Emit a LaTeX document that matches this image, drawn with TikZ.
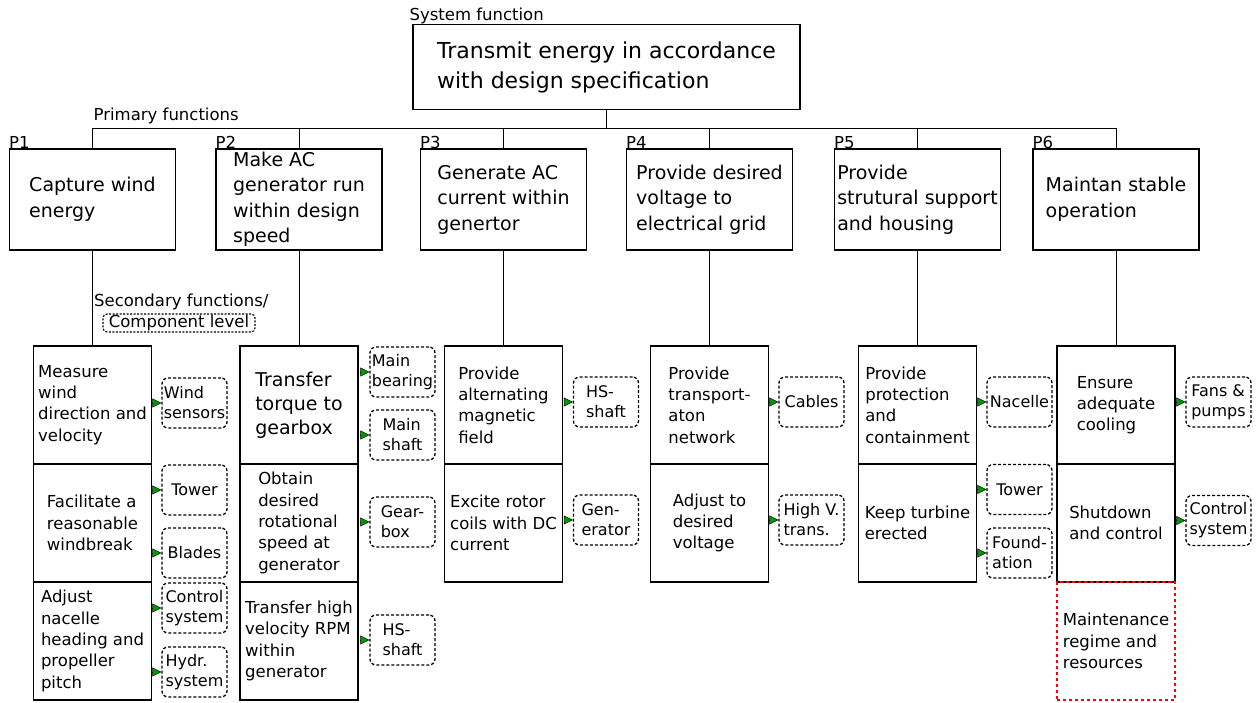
\documentclass[tikz,border=0pt]{standalone}
\usepackage{fontspec}
\setmainfont{DejaVu Sans}
\usetikzlibrary{arrows.meta,positioning}

\begin{document}
\begin{tikzpicture}[x=1pt,y=-1pt,
  sys node/.style={rectangle,draw,line width=1.2pt,minimum width=387pt,minimum height=85pt,
    align=left,inner sep=2pt,font=\fontsize{22}{30}\selectfont},
  prim node/.style={rectangle,draw,line width=1.2pt,minimum width=166pt,minimum height=101pt,
    align=left,inner sep=1pt,font=\fontsize{19}{25.5}\selectfont},
  sec node/.style={rectangle,draw,line width=1.2pt,minimum width=118pt,minimum height=118pt,
    outer sep=0pt,align=left,inner sep=1pt,font=\fontsize{16.5}{21.3}\selectfont},
  open node/.style={sec node,draw=red,dashed},
  comp node/.style={rectangle,rounded corners=6pt,draw,line width=1.3pt,dash pattern=on 3pt off 2pt,
    minimum width=65pt,minimum height=50pt,align=left,inner sep=1pt,font=\fontsize{16}{20}\selectfont},
  label node/.style={inner sep=0pt,font=\fontsize{16.5}{20}\selectfont},
  comp arrow/.style={-{Triangle[length=9pt,width=9pt,fill=green!60!black]},line width=0.5pt,shorten <=2pt},
  link/.style={draw,line width=1pt}]

  \useasboundingbox (0,0) rectangle (1256,702);

  % system and primary functions
  \node[sys node] (sys) at (606.5,67) {Transmit energy in accordance\\with design specification};
  \node[label node,anchor=south west,xshift=-3pt] (syslbl) at (sys.north west) {System function};

  \node[prim node] (p1) at (92.5,199.5) {Capture wind\\energy};
  \node[prim node] (p2) at (299,199.5) {Make AC\\generator run\\within design\\speed};
  \node[prim node] (p3) at (503.5,199.5) {Generate AC\\current within\\genertor};
  \node[prim node] (p4) at (709.5,199.5) {Provide desired\\voltage to\\electrical grid};
  \node[prim node] (p5) at (917.5,199.5) {Provide\\strutural support\\and housing};
  \node[prim node] (p6) at (1116,199.5) {Maintan stable\\operation};

  \node[label node,anchor=base west] (pl1) at (p1.north west) {P1};
  \node[label node,anchor=base west] (pl2) at (p2.north west) {P2};
  \node[label node,anchor=base west] (pl3) at (p3.north west) {P3};
  \node[label node,anchor=base west] (pl4) at (p4.north west) {P4};
  \node[label node,anchor=base west] (pl5) at (p5.north west) {P5};
  \node[label node,anchor=base west] (pl6) at (p6.north west) {P6};

  \coordinate (bus) at (0,128);
  \node[label node,anchor=south west,xshift=1pt,yshift=4pt] (primlbl) at (p1.north |- bus) {Primary functions};

  \path[link] (sys.south) edge (sys.south |- bus);
  \draw[link] (p1.north) -- (p1.north |- bus) -- (p6.north |- bus) -- (p6.north);
  \path[link] (p2.north) edge (p2.north |- bus)
              (p3.north) edge (p3.north |- bus)
              (p4.north) edge (p4.north |- bus)
              (p5.north) edge (p5.north |- bus);

  % secondary functions
  \node[label node,anchor=base west] (seclbl) at (94,306) {Secondary functions/};
  \node[label node,draw,rounded corners=4pt,line width=1.1pt,dash pattern=on 2pt off 1.5pt,
    minimum width=152pt,minimum height=18pt] (complbl) at (179,323) {Component level};

  \node[sec node] (s1a) at (92.5,405) {Measure\\wind\\direction and\\velocity};
  \node[sec node,below=0pt of s1a] (s1b) {Facilitate a\\reasonable\\windbreak};
  \node[sec node,below=0pt of s1b] (s1c) {Adjust\\nacelle\\heading and\\propeller\\pitch};

  \node[sec node,font=\fontsize{19}{24}\selectfont] (s2a) at (299,405) {Transfer\\torque to\\gearbox};
  \node[sec node,below=0pt of s2a] (s2b) {Obtain\\desired\\rotational\\speed at\\generator};
  \node[sec node,below=0pt of s2b] (s2c) {Transfer high\\velocity RPM\\within\\generator};

  \node[sec node] (s3a) at (503.5,405) {Provide\\alternating\\magnetic\\field};
  \node[sec node,below=0pt of s3a] (s3b) {Excite rotor\\coils with DC\\current};

  \node[sec node] (s4a) at (709.5,405) {Provide\\transport-\\aton\\network};
  \node[sec node,below=0pt of s4a] (s4b) {Adjust to\\desired\\voltage};

  \node[sec node] (s5a) at (917.5,405) {Provide\\protection\\and\\containment};
  \node[sec node,below=0pt of s5a] (s5b) {Keep turbine\\erected};

  \node[sec node] (s6a) at (1116,405) {Ensure\\adequate\\cooling};
  \node[sec node,below=0pt of s6a] (s6b) {Shutdown\\and control};
  \node[open node,below=0pt of s6b] (s6c) {Maintenance\\regime and\\resources};

  \path[link] (p1.south) edge (s1a.north)
              (p2.south) edge (s2a.north)
              (p3.south) edge (s3a.north)
              (p4.south) edge (s4a.north)
              (p5.south) edge (s5a.north)
              (p6.south) edge (s6a.north);

  % components
  \node[comp node] (c1a) at (194.5,403) {Wind\\sensors};
  \node[comp node] (c1b) at (194.5,490) {Tower};
  \node[comp node] (c1c) at (194.5,553) {Blades};
  \node[comp node] (c1d) at (194.5,608) {Control\\system};
  \node[comp node] (c1e) at (194.5,672) {Hydr.\\system};

  \node[comp node] (c2a) at (402.5,372) {Main\\bearing};
  \node[comp node] (c2b) at (402.5,435) {Main\\shaft};
  \node[comp node] (c2c) at (402.5,522) {Gear-\\box};
  \node[comp node] (c2d) at (402.5,640) {HS-\\shaft};

  \node[comp node] (c3a) at (606,402) {HS-\\shaft};
  \node[comp node] (c3b) at (606,520) {Gen-\\erator};

  \node[comp node] (c4a) at (811.5,402) {Cables};
  \node[comp node] (c4b) at (811.5,520) {High V.\\trans.};

  \node[comp node] (c5a) at (1019.5,402) {Nacelle};
  \node[comp node] (c5b) at (1019.5,489.5) {Tower};
  \node[comp node] (c5c) at (1019.5,553) {Found-\\ation};

  \node[comp node] (c6a) at (1218.5,402) {Fans \&\\pumps};
  \node[comp node] (c6b) at (1218.5,520.5) {Control\\system};

  \path[comp arrow] (s1a.east |- c1a.west) edge (c1a.west)
                    (s1b.east |- c1b.west) edge (c1b.west)
                    (s1b.east |- c1c.west) edge (c1c.west)
                    (s1c.east |- c1d.west) edge (c1d.west)
                    (s1c.east |- c1e.west) edge (c1e.west)
                    (s2a.east |- c2a.west) edge (c2a.west)
                    (s2a.east |- c2b.west) edge (c2b.west)
                    (s2b.east |- c2c.west) edge (c2c.west)
                    (s2c.east |- c2d.west) edge (c2d.west)
                    (s3a.east |- c3a.west) edge (c3a.west)
                    (s3b.east |- c3b.west) edge (c3b.west)
                    (s4a.east |- c4a.west) edge (c4a.west)
                    (s4b.east |- c4b.west) edge (c4b.west)
                    (s5a.east |- c5a.west) edge (c5a.west)
                    (s5b.east |- c5b.west) edge (c5b.west)
                    (s5b.east |- c5c.west) edge (c5c.west)
                    (s6a.east |- c6a.west) edge (c6a.west)
                    (s6b.east |- c6b.west) edge (c6b.west);

\end{tikzpicture}
\end{document}
